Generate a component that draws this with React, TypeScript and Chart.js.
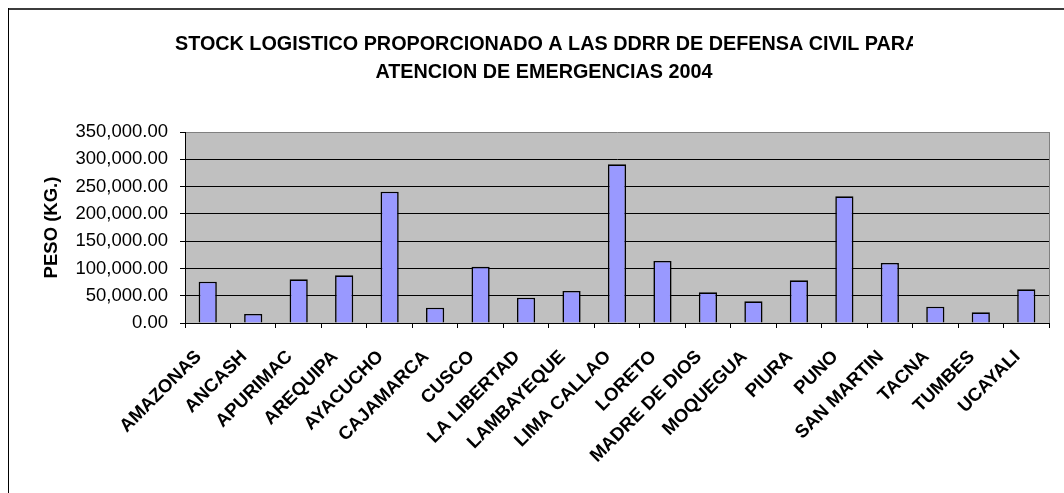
import React, { useEffect, useRef } from "react";
import { Chart, registerables } from "chart.js";

Chart.register(...registerables);

const categories = [
  "AMAZONAS",
  "ANCASH",
  "APURIMAC",
  "AREQUIPA",
  "AYACUCHO",
  "CAJAMARCA",
  "CUSCO",
  "LA LIBERTAD",
  "LAMBAYEQUE",
  "LIMA CALLAO",
  "LORETO",
  "MADRE DE DIOS",
  "MOQUEGUA",
  "PIURA",
  "PUNO",
  "SAN MARTIN",
  "TACNA",
  "TUMBES",
  "UCAYALI",
];

const pesoKg = [
  75700, 16500, 80000, 87400, 240600, 28000, 103200, 46400, 58600, 290800,
  113600, 56200, 39700, 78200, 232100, 110000, 29900, 19600, 61700,
];

const yMin = 0;
const yMax = 350000;
const yStep = 50000;

const titleLines = [
  "STOCK LOGISTICO PROPORCIONADO A LAS DDRR DE DEFENSA CIVIL PARA",
  "ATENCION DE EMERGENCIAS 2004",
];
const yAxisTitle = "PESO (KG.)";

const FONT = "Arial, 'Liberation Sans', sans-serif";

const decorPlugin = {
  id: "decor",
  beforeDraw(chart: any) {
    const { ctx, chartArea: a } = chart;
    ctx.save();
    ctx.fillStyle = "#ffffff";
    ctx.fillRect(0, 0, chart.width, chart.height);
    ctx.fillStyle = "#C0C0C0";
    ctx.fillRect(a.left, a.top, a.right - a.left, a.bottom - a.top);
    ctx.restore();
  },
  beforeDatasetsDraw(chart: any) {
    const { ctx, chartArea: a } = chart;
    ctx.save();
    ctx.strokeStyle = "#808080";
    ctx.lineWidth = 1;
    ctx.beginPath();
    const x = Math.round(a.right) + 0.5;
    ctx.moveTo(x, a.top);
    ctx.lineTo(x, a.bottom);
    ctx.stroke();
    ctx.restore();
  },
  afterDraw(chart: any) {
    const { ctx } = chart;
    ctx.save();
    // outer frame
    ctx.fillStyle = "#3c3c3c";
    ctx.fillRect(8, 8, chart.width - 8, 2);
    ctx.fillStyle = "#000000";
    ctx.fillRect(8, 8, 1, chart.height - 8);
    // title
    ctx.fillStyle = "#000000";
    ctx.font = `bold 19.8px ${FONT}`;
    ctx.textBaseline = "middle";
    ctx.textAlign = "left";
    ctx.save();
    ctx.beginPath();
    ctx.rect(0, 0, 913, chart.height);
    ctx.clip();
    ctx.fillText(titleLines[0], 175, 45);
    ctx.restore();
    ctx.textAlign = "center";
    ctx.fillText(titleLines[1], 544, 73);
    ctx.restore();
  },
};

export default function App() {
  const ref = useRef<HTMLCanvasElement | null>(null);

  useEffect(() => {
    if (!ref.current) return;
    const chart = new Chart(ref.current, {
      type: "bar",
      data: {
        labels: categories,
        datasets: [
          {
            label: "PESO (KG.)",
            data: pesoKg,
            backgroundColor: "#9999FF",
            borderColor: "#000000",
            borderWidth: 1.6,
            barPercentage: 0.4,
            categoryPercentage: 1,
          },
        ],
      },
      options: {
        animation: false,
        responsive: false,
        devicePixelRatio: 1,
        layout: { padding: { top: 132, right: 15, bottom: 0, left: 0 } },
        plugins: {
          legend: { display: false },
          title: { display: false },
          tooltip: { enabled: false },
        },
        scales: {
          x: {
            afterFit(scale: any) {
              scale.height = 170;
            },
            grid: {
              display: true,
              drawOnChartArea: false,
              drawTicks: true,
              tickLength: 5,
              tickColor: "#000000",
              offset: true,
            },
            border: { display: true, color: "#000000", width: 1 },
            ticks: {
              autoSkip: false,
              minRotation: 45,
              maxRotation: 45,
              padding: 18,
              labelOffset: -9,
              color: "#000000",
              font: { family: FONT, size: 18.5, weight: "bold" },
            },
          },
          y: {
            min: yMin,
            max: yMax,
            afterFit(scale: any) {
              scale.width = 185;
            },
            grid: {
              color: (c: any) =>
                c.tick && c.tick.value === yMax ? "#808080" : "#000000",
              tickLength: 5,
              tickColor: "#000000",
              lineWidth: 1,
            },
            border: { display: true, color: "#000000", width: 1 },
            ticks: {
              stepSize: yStep,
              padding: 12,
              color: "#000000",
              font: { family: FONT, size: 18.5 },
              callback: (v: any) =>
                Number(v).toLocaleString("en-US", {
                  minimumFractionDigits: 2,
                  maximumFractionDigits: 2,
                }),
            },
            title: {
              display: true,
              text: yAxisTitle,
              color: "#000000",
              font: { family: FONT, size: 18.5, weight: "bold" },
              padding: { top: 41, bottom: 0 },
            },
          },
        },
      },
      plugins: [decorPlugin],
    } as any);
    return () => chart.destroy();
  }, []);

  return (
    <div style={{ position: "absolute", left: 0, top: 0, width: 1064, height: 493 }}>
      <canvas
        ref={ref}
        width={1064}
        height={493}
        style={{ display: "block", width: 1064, height: 493 }}
      />
    </div>
  );
}
